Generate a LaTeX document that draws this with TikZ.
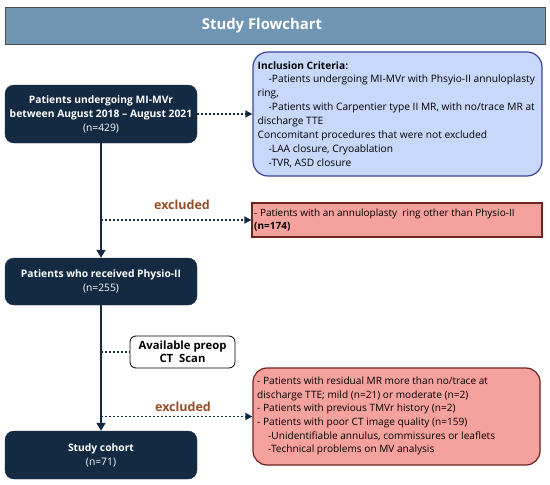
\documentclass[tikz,border=0pt]{standalone}
\usepackage{fontspec}
\setmainfont{Open Sans}
\usetikzlibrary{arrows.meta}

\definecolor{navy}{RGB}{19,42,66}
\definecolor{titleblue}{RGB}{113,150,180}
\definecolor{inclfill}{RGB}{200,216,250}
\definecolor{incldraw}{RGB}{58,68,150}
\definecolor{exclfill}{RGB}{245,162,158}
\definecolor{excldraw}{RGB}{110,35,30}
\definecolor{exclword}{RGB}{150,78,38}

\tikzset{
    darkbox/.style={fill=navy, draw=navy, rounded corners=9pt, text=white,
        minimum width=192pt, align=center, font=\fontsize{10.3}{14}\selectfont},
    inclbox/.style={fill=inclfill, draw=incldraw, line width=1.2pt, rounded corners=15pt},
    exclbox/.style={fill=exclfill, draw=excldraw, line width=1.2pt},
    boxtext/.style={anchor=west, align=left, inner sep=0pt, font=\fontsize{10.2}{13.9}\selectfont},
    ctbox/.style={fill=white, draw=black, line width=0.8pt, rounded corners=6pt,
        align=center, font=\bfseries\fontsize{11.3}{13.5}\selectfont},
    exclword/.style={text=exclword, font=\bfseries\fontsize{12.5}{14}\selectfont},
    mainline/.style={draw=navy, line width=1.8pt, -{Triangle[length=8pt,width=9pt]}},
    dotline/.style={draw=navy, line width=1.6pt, dash pattern=on 1.6pt off 2.4pt},
    dotarrow/.style={dotline, -{Triangle[length=7pt,width=7pt]}}
}

\begin{document}
\begin{tikzpicture}[x=1pt,y=-1pt]
    \useasboundingbox[fill=white] (0,0) rectangle (550,485);

    %% Title
    \node[fill=titleblue, draw=black!70, line width=0.8pt, minimum width=540pt, minimum height=37pt] (title) at (275,25.5) {};
    \node[text=white, font=\bfseries\fontsize{14.9}{16}\selectfont] (titletext) at (262,25.5) {Study Flowchart};

    %% Main column
    \node[darkbox, minimum height=58pt] (mimvr) at (101,114)
        {\textbf{Patients undergoing MI-MVr}\\\textbf{between August 2018 – August 2021}\\(n=429)};
    \node[darkbox, minimum height=47pt] (physio) at (101,281.5)
        {\textbf{Patients who received Physio-II}\\(n=255)};
    \node[darkbox, minimum height=48pt] (cohort) at (101,455)
        {\textbf{Study cohort}\\(n=71)};

    %% Side boxes
    \node[inclbox, minimum width=289pt, minimum height=124pt] (incl) at (397.5,114) {};
    \node[boxtext] (incltext) at (257.5,114.5)
        {\textbf{Inclusion Criteria:}\\
        \hspace*{11pt}-Patients undergoing MI-MVr with Phsyio-II annuloplasty\\
        ring,\\
        \hspace*{11pt}-Patients with Carpentier type II MR, with no/trace MR at\\
        discharge TTE\\
        Concomitant procedures that were not excluded\\
        \hspace*{11pt}-LAA closure, Cryoablation\\
        \hspace*{11pt}-TVR, ASD closure};
    \node[exclbox, minimum width=290pt, minimum height=34pt] (excla) at (397,220) {};
    \node[boxtext, font=\fontsize{10}{13.5}\selectfont] (exclatext) at (254,220)
        {- Patients with an annuloplasty\ \ ring other than Physio-II\\\textbf{(n=174)}};
    \node[ctbox, minimum width=105pt, minimum height=32pt] (ctscan) at (182.5,352)
        {Available preop\\CT\ \ Scan};
    \node[exclbox, rounded corners=14pt, minimum width=287pt, minimum height=97pt] (exclb) at (396.5,416.5) {};
    \node[boxtext, font=\fontsize{10.1}{13.6}\selectfont] (exclbtext) at (257,416)
        {- Patients with residual MR more than no/trace at\\
        discharge TTE; mild (n=21) or moderate (n=2)\\
        - Patients with previous TMVr history (n=2)\\
        - Patients with poor CT image quality (n=159)\\
        \hspace*{11pt}-Unidentifiable annulus, commissures or leaflets\\
        \hspace*{11pt}-Technical problems on MV analysis};

    %% Labels
    \node[exclword] (wordA) at (182,205) {excluded};
    \node[exclword] (wordB) at (183,407) {excluded};

    %% Connectors
    \coordinate (splitA) at (101,220);
    \coordinate (splitB) at (101,352);
    \coordinate (splitC) at (101,416.5);
    \draw[mainline] (mimvr) -- (physio);
    \draw[mainline] (physio) -- (cohort);
    \draw[dotarrow] (mimvr.east) -- (incl.west);
    \draw[dotarrow] (splitA) -- (excla.west);
    \draw[dotline] (splitB) -- (ctscan.west);
    \draw[dotarrow] (splitC) -- (exclb.west);
\end{tikzpicture}
\end{document}
